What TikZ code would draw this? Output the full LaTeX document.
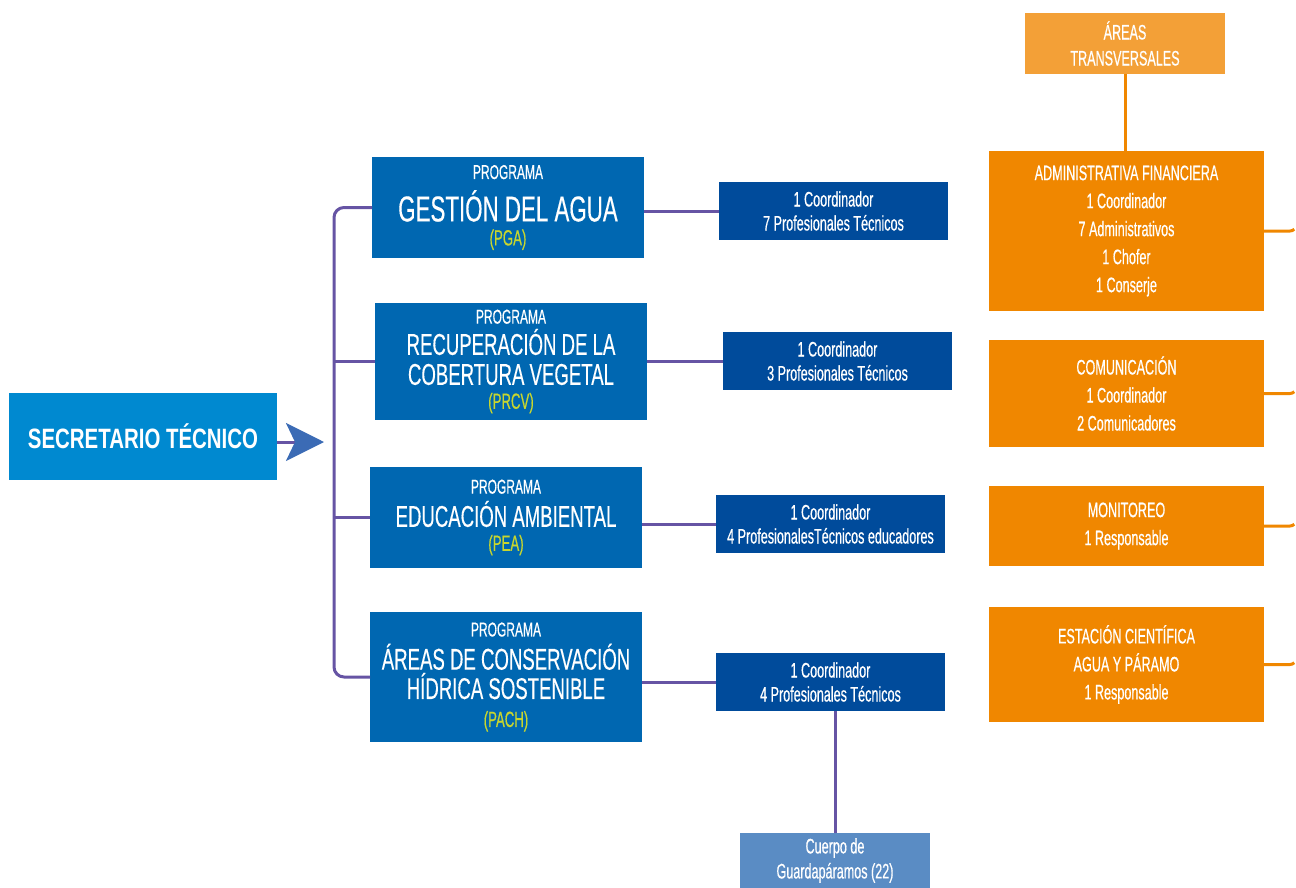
\documentclass[tikz,border=0pt]{standalone}
\usepackage{fontspec}
\setmainfont{Liberation Sans}
\newfontfamily\narrowfont[FakeStretch=0.6,FakeBold=0.5]{Liberation Sans}
\newfontfamily\titlefont[FakeStretch=0.62,FakeBold=0.3]{Liberation Sans}
\newfontfamily\headfont[FakeStretch=0.73]{Liberation Sans}
\usetikzlibrary{arrows.meta,calc}
\definecolor{secblue}{RGB}{0,137,208}
\definecolor{progblue}{RGB}{0,103,177}
\definecolor{teamblue}{RGB}{0,75,155}
\definecolor{guardblue}{RGB}{90,140,196}
\definecolor{areaorange}{RGB}{240,135,0}
\definecolor{headorange}{RGB}{243,160,55}
\definecolor{linkpurple}{RGB}{102,84,164}
\definecolor{arrowblue}{RGB}{59,107,181}
\definecolor{acrgreen}{RGB}{200,214,46}
\newcommand\progtitle[2][30]{{\titlefont\fontsize{#1}{24}\selectfont #2}}
\newcommand\acronym[1]{{\fontsize{22}{24}\selectfont\color{acrgreen}#1}}

\begin{document}
\begin{tikzpicture}[x=1pt,y=-1pt,
  box/.style={rectangle,inner sep=0pt,outer sep=0pt,text=white,align=center},
  secbox/.style={box,fill=secblue,minimum width=268,minimum height=87,
    font=\headfont\bfseries\fontsize{28}{30}\selectfont},
  progbox/.style={box,fill=progblue,minimum width=272,
    font=\narrowfont\fontsize{20}{24}\selectfont},
  teambox/.style={box,fill=teamblue,minimum width=229,minimum height=58,
    font=\narrowfont\fontsize{21}{24}\selectfont},
  guardbox/.style={box,fill=guardblue,minimum width=190,minimum height=55,
    font=\narrowfont\fontsize{21}{25}\selectfont},
  areabox/.style={box,fill=areaorange,minimum width=275,
    font=\narrowfont\fontsize{21}{28}\selectfont},
  headbox/.style={box,fill=headorange,minimum width=200,minimum height=61,
    font=\narrowfont\fontsize{21}{26}\selectfont},
  progline/.style={draw=linkpurple,line width=3pt},
  arealine/.style={draw=areaorange,line width=3pt}]
\useasboundingbox (0,0) rectangle (1296,888);
\coordinate (S) at (143,436.5);
\coordinate (P1) at (508,207.5);
\coordinate (P2) at (511,361.5);
\coordinate (P3) at (506,517.5);
\coordinate (P4) at (506,677);
\coordinate (T1) at (833.5,211);
\coordinate (T2) at (837.5,361);
\coordinate (T3) at (830.5,524);
\coordinate (T4) at (830.5,682);
\coordinate (G) at (835,860.5);
\coordinate (H) at (1125,43.5);
\coordinate (A1) at (1126.5,231);
\coordinate (A2) at (1126.5,393.5);
\coordinate (A3) at (1126.5,526);
\coordinate (A4) at (1126.5,664.5);
\coordinate (bar) at (334,440);
\coordinate (tip) at (324,442);

\node[secbox] (sec) at (S) {SECRETARIO TÉCNICO};

\node[progbox,minimum height=101] (pga) at (P1)
  {PROGRAMA\\[10pt]\progtitle[36]{GESTIÓN DEL AGUA}\\\acronym{(PGA)}};
\node[progbox,minimum height=117] (prcv) at (P2)
  {PROGRAMA\\[4pt]\progtitle{RECUPERACIÓN DE LA}\\[6pt]\progtitle{COBERTURA VEGETAL}\\\acronym{(PRCV)}};
\node[progbox,minimum height=101] (pea) at (P3)
  {PROGRAMA\\[6pt]\progtitle{EDUCACIÓN AMBIENTAL}\\\acronym{(PEA)}};
\node[progbox,minimum height=130] (pach) at (P4)
  {PROGRAMA\\[6pt]\progtitle{ÁREAS DE CONSERVACIÓN}\\[2pt]\progtitle{HÍDRICA SOSTENIBLE}\\[4pt]\acronym{(PACH)}};

\node[teambox] (pgaT) at (T1) {1 Coordinador\\7 Profesionales Técnicos};
\node[teambox] (prcvT) at (T2) {1 Coordinador\\3 Profesionales Técnicos};
\node[teambox] (peaT) at (T3) {1 Coordinador\\4 ProfesionalesTécnicos educadores};
\node[teambox] (pachT) at (T4) {1 Coordinador\\4 Profesionales Técnicos};
\node[guardbox] (guard) at (G) {Cuerpo de\\Guardapáramos (22)};

\node[headbox] (areas) at (H) {ÁREAS\\TRANSVERSALES};
\node[areabox,minimum height=160] (admin) at (A1)
  {ADMINISTRATIVA FINANCIERA\\1 Coordinador\\7 Administrativos\\1 Chofer\\1 Conserje};
\node[areabox,minimum height=107] (com) at (A2)
  {COMUNICACIÓN\\1 Coordinador\\2 Comunicadores};
\node[areabox,minimum height=80] (mon) at (A3)
  {MONITOREO\\1 Responsable};
\node[areabox,minimum height=115] (est) at (A4)
  {ESTACIÓN CIENTÍFICA\\AGUA Y PÁRAMO\\1 Responsable};

\draw[progline,-{Stealth[length=38pt,width=38pt,inset=9pt,color=arrowblue]}]
  (sec.east |- tip) -- (tip);
\draw[progline,rounded corners=10pt] (pga.west) -- (pga.west -| bar) |- (pach.west);
\draw[progline] (prcv.west) -- (prcv.west -| bar);
\draw[progline] (pea.west) -- (pea.west -| bar);
\draw[progline] (pgaT.west) -- (pgaT.west -| pga.east);
\draw[progline] (prcvT.west) -- (prcvT.west -| prcv.east);
\draw[progline] (peaT.west) -- (peaT.west -| pea.east);
\draw[progline] (pachT.west) -- (pachT.west -| pach.east);
\draw[progline] (guard.north) -- (guard.north |- pachT.south);

\draw[arealine] (areas.south) -- (areas.south |- admin.north);
\foreach \n in {admin,com,mon,est}
  \draw[arealine] (\n.east) -- ++(26,0) arc[start angle=90,end angle=45,radius=6];
\end{tikzpicture}
\end{document}
